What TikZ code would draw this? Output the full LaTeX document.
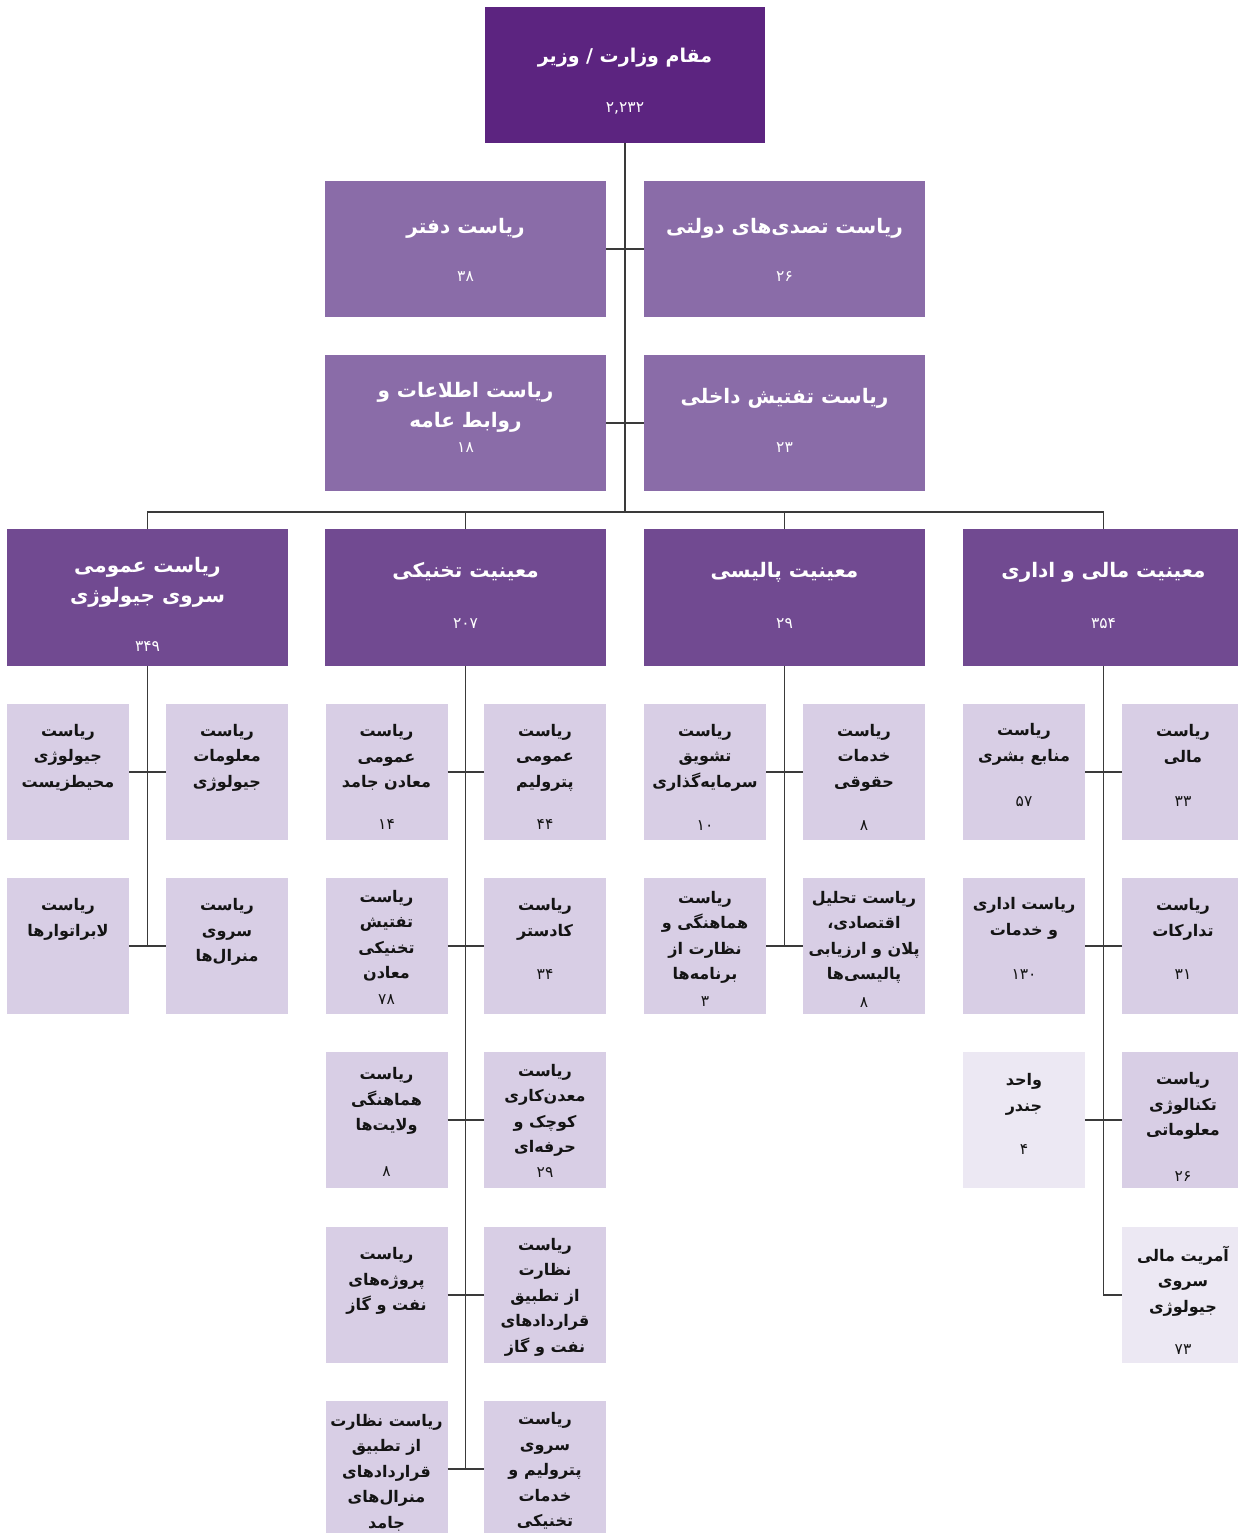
\documentclass[tikz,border=0pt]{standalone}
\usepackage{fontspec}
\TeXXeTstate=1
\newfontfamily\arabicfont[Script=Arabic]{DejaVu Sans}
\newcommand\rtx[1]{\beginR #1\endR}
\definecolor{cTop}{HTML}{5C2480}
\definecolor{cMid}{HTML}{8A6CA8}
\definecolor{cHead}{HTML}{714A91}
\definecolor{cSmall}{HTML}{D8CEE5}
\definecolor{cLight}{HTML}{ECE8F3}
\definecolor{cLine}{HTML}{3A3A3A}
\definecolor{cInk}{HTML}{141414}
\tikzset{
  boxbase/.style={rectangle,inner sep=0pt,draw=none},
  tp/.style={boxbase,fill=cTop,minimum width=280,minimum height=136},
  md/.style={boxbase,fill=cMid,minimum width=281,minimum height=136},
  hd/.style={boxbase,fill=cHead,minimum width=281,minimum height=137},
  sm/.style={boxbase,fill=cSmall,minimum width=122,minimum height=136},
  lt/.style={boxbase,fill=cLight,minimum width=122,minimum height=136},
  bigtxt/.style={inner sep=0pt,align=center,text=white,font=\arabicfont\bfseries\fontsize{20}{30}\selectfont},
  bignum/.style={inner sep=0pt,text=white,font=\arabicfont\fontsize{15.5}{17}\selectfont},
  tptxt/.style={bigtxt,font=\arabicfont\bfseries\fontsize{19}{30}\selectfont}, tpnum/.style={bignum},
  mdtxt/.style={bigtxt}, mdnum/.style={bignum},
  hdtxt/.style={bigtxt}, hdnum/.style={bignum},
  smtxt/.style={inner sep=0pt,align=center,text=cInk,font=\arabicfont\bfseries\fontsize{16}{25.5}\selectfont},
  smnum/.style={inner sep=0pt,text=cInk,font=\arabicfont\fontsize{15.5}{17}\selectfont},
  lttxt/.style={smtxt}, ltnum/.style={smnum},
  conn/.style={draw=cLine,line width=1.6pt},
}
% name, style, cx, cy, title y, title, number y, number
\newcommand\obx[8]{%
  \node[#2] (#1) at (#3,#4) {};
  \node[#2txt] (#1t) at (#3,#5) {#6};
  \node[#2num] (#1n) at (#3,#7) {#8};}
% name, style, cx, cy, title y, title
\newcommand\obxn[6]{%
  \node[#2] (#1) at (#3,#4) {};
  \node[#2txt] (#1t) at (#3,#5) {#6};}
\begin{document}
\begin{tikzpicture}[x=1pt,y=-1pt]
\useasboundingbox (0,0) rectangle (1237,1533);
\fill[white] (0,0) rectangle (1237,1533);
% top
\obx{top}{tp}{625}{75}{58}{\rtx{مقام وزارت / وزیر}}{108}{۲,۲۳۲}
\obx{dft}{md}{465.5}{249}{228}{\rtx{ریاست دفتر}}{277}{۳۸}
\obx{tsd}{md}{784.5}{249}{228}{\rtx{ریاست تصدی^^^^200cهای دولتی}}{277}{۲۶}
\obx{itl}{md}{465.5}{423}{407}{\rtx{ریاست اطلاعات و}\\\rtx{روابط عامه}}{448}{۱۸}
\obx{tft}{md}{784.5}{423}{398}{\rtx{ریاست تفتیش داخلی}}{448}{۲۳}
% headers
\obx{hA}{hd}{147.5}{597.5}{582}{\rtx{ریاست عمومی}\\\rtx{سروی جیولوژی}}{647}{۳۴۹}
\obx{hB}{hd}{465.5}{597.5}{572}{\rtx{معینیت تخنیکی}}{624}{۲۰۷}
\obx{hC}{hd}{784.5}{597.5}{572}{\rtx{معینیت پالیسی}}{624}{۲۹}
\obx{hD}{hd}{1103.5}{597.5}{572}{\rtx{معینیت مالی و اداری}}{624}{۳۵۴}
% row 1
\obxn{a1l}{sm}{68}{772}{757.5}{\rtx{ریاست}\\\rtx{جیولوژی}\\\rtx{محیطزیست}}
\obxn{a1r}{sm}{227}{772}{757.5}{\rtx{ریاست}\\\rtx{معلومات}\\\rtx{جیولوژی}}
\obx{b1l}{sm}{386.5}{772}{757.5}{\rtx{ریاست}\\\rtx{عمومی}\\\rtx{معادن جامد}}{825}{۱۴}
\obx{b1r}{sm}{545}{772}{757.5}{\rtx{ریاست}\\\rtx{عمومی}\\\rtx{پترولیم}}{825}{۴۴}
\obx{c1l}{sm}{705}{772}{757.5}{\rtx{ریاست}\\\rtx{تشویق}\\\rtx{سرمایه^^^^200cگذاری}}{826}{۱۰}
\obx{c1r}{sm}{864}{772}{757.5}{\rtx{ریاست}\\\rtx{خدمات}\\\rtx{حقوقی}}{826}{۸}
\obx{d1l}{sm}{1024}{772}{744.5}{\rtx{ریاست}\\\rtx{منابع بشری}}{802}{۵۷}
\obx{d1r}{sm}{1183}{772}{744.5}{\rtx{ریاست}\\\rtx{مالی}}{802}{۳۳}
% row 2
\obxn{a2l}{sm}{68}{946}{919.5}{\rtx{ریاست}\\\rtx{لابراتوارها}}
\obxn{a2r}{sm}{227}{946}{932}{\rtx{ریاست}\\\rtx{سروی}\\\rtx{منرال^^^^200cها}}
\obx{b2l}{sm}{386.5}{946}{935.5}{\rtx{ریاست}\\\rtx{تفتیش}\\\rtx{تخنیکی}\\\rtx{معادن}}{1000}{۷۸}
\obx{b2r}{sm}{545}{946}{919.5}{\rtx{ریاست}\\\rtx{کادستر}}{975}{۳۴}
\obx{c2l}{sm}{705}{946}{937.5}{\rtx{ریاست}\\\rtx{هماهنگی و}\\\rtx{نظارت از}\\\rtx{برنامه^^^^200cها}}{1002}{۳}
\obx{c2r}{sm}{864}{946}{937.5}{\rtx{ریاست تحلیل}\\\rtx{اقتصادی،}\\\rtx{پلان و ارزیابی}\\\rtx{پالیسی^^^^200cها}}{1003}{۸}
\obx{d2l}{sm}{1024}{946}{918.5}{\rtx{ریاست اداری}\\\rtx{و خدمات}}{975}{۱۳۰}
\obx{d2r}{sm}{1183}{946}{919.5}{\rtx{ریاست}\\\rtx{تدارکات}}{975}{۳۱}
% row 3
\obx{b3l}{sm}{386.5}{1120}{1101}{\rtx{ریاست}\\\rtx{هماهنگی}\\\rtx{ولایت^^^^200cها}}{1172}{۸}
\obx{b3r}{sm}{545}{1120}{1110.5}{\rtx{ریاست}\\\rtx{معدن^^^^200cکاری}\\\rtx{کوچک و}\\\rtx{حرفه^^^^200cای}}{1173}{۲۹}
\obx{d3l}{lt}{1024}{1120}{1094.5}{\rtx{واحد}\\\rtx{جندر}}{1150}{۴}
\obx{d3r}{sm}{1183}{1120}{1106}{\rtx{ریاست}\\\rtx{تکنالوژی}\\\rtx{معلوماتی}}{1177}{۲۶}
% row 4
\obxn{b4l}{sm}{386.5}{1295}{1281}{\rtx{ریاست}\\\rtx{پروژه^^^^200cهای}\\\rtx{نفت و گاز}}
\obxn{b4r}{sm}{545}{1295}{1297}{\rtx{ریاست}\\\rtx{نظارت}\\\rtx{از تطبیق}\\\rtx{قراردادهای}\\\rtx{نفت و گاز}}
\obx{d4r}{lt}{1183}{1295}{1281}{\rtx{آمریت مالی}\\\rtx{سروی}\\\rtx{جیولوژی}}{1350}{۷۳}
% row 5
\obxn{b5l}{sm}{386.5}{1469}{1472.5}{\rtx{ریاست نظارت}\\\rtx{از تطبیق}\\\rtx{قراردادهای}\\\rtx{منرال^^^^200cهای}\\\rtx{جامد}}
\obxn{b5r}{sm}{545}{1469}{1471}{\rtx{ریاست}\\\rtx{سروی}\\\rtx{پترولیم و}\\\rtx{خدمات}\\\rtx{تخنیکی}}
% connectors
\coordinate (bus) at (625,512);
\draw[conn] (top.south) -- (bus);
\draw[conn] (dft.east) -- (tsd.west);
\draw[conn] (itl.east) -- (tft.west);
\draw[conn] (hA.north) -- (hA.north |- bus) -- (hD.north |- bus) -- (hD.north);
\draw[conn] (hB.north) -- (hB.north |- bus);
\draw[conn] (hC.north) -- (hC.north |- bus);
\draw[conn] (hA.south) -- (hA.south |- a2l.east);
\draw[conn] (a1l.east) -- (a1r.west);
\draw[conn] (a2l.east) -- (a2r.west);
\draw[conn] (hB.south) -- (hB.south |- b5l.east);
\draw[conn] (b1l.east) -- (b1r.west);
\draw[conn] (b2l.east) -- (b2r.west);
\draw[conn] (b3l.east) -- (b3r.west);
\draw[conn] (b4l.east) -- (b4r.west);
\draw[conn] (b5l.east) -- (b5r.west);
\draw[conn] (hC.south) -- (hC.south |- c2l.east);
\draw[conn] (c1l.east) -- (c1r.west);
\draw[conn] (c2l.east) -- (c2r.west);
\draw[conn] (hD.south) |- (d4r.west);
\draw[conn] (d1l.east) -- (d1r.west);
\draw[conn] (d2l.east) -- (d2r.west);
\draw[conn] (d3l.east) -- (d3r.west);
\end{tikzpicture}
\end{document}
